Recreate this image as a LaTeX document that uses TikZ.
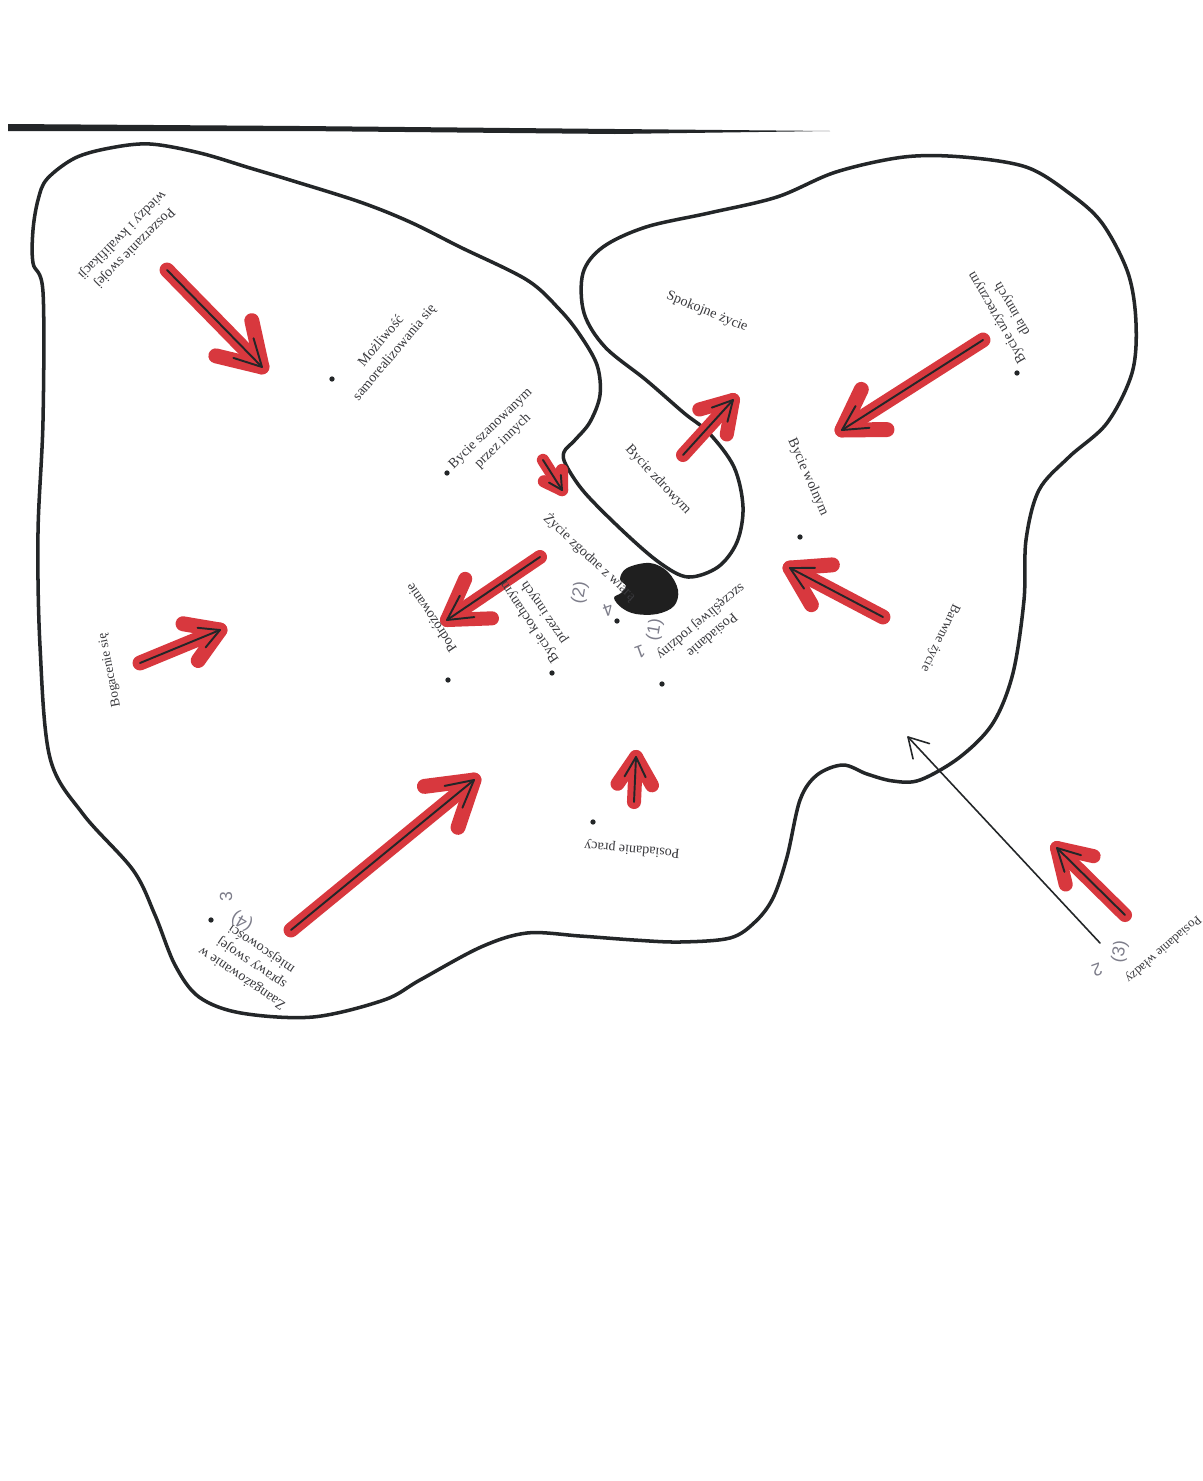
\documentclass[tikz,border=0pt]{standalone}
\usepackage{fontspec}
\setmainfont{Liberation Serif}
\newfontfamily\handfont{Liberation Sans}
\usetikzlibrary{calc}
\definecolor{markred}{RGB}{216,56,62}
\definecolor{ink}{RGB}{35,38,40}
\definecolor{typetext}{RGB}{58,58,62}
\definecolor{pencil}{RGB}{125,125,138}
\newcommand\markarrow[5]{%
  \draw[redmark, line width=#5] (#1) -- (#2);
  \draw[redmark, line width=#5] ($(#2)!#3!32:(#1)$) -- (#2) -- ($(#2)!#3!-32:(#1)$);
  \draw[inkline] (#1) -- (#2);
  \draw[inkline] ($(#2)!#4!28:(#1)$) -- (#2) -- ($(#2)!#4!-28:(#1)$);
}
\begin{document}
\begin{tikzpicture}[x=0.02cm,y=-0.02cm,
  outline/.style={draw=ink, line width=2pt, line join=round},
  redmark/.style={draw=markred, line cap=round, line join=round},
  inkline/.style={draw=ink, line width=1.1pt, line cap=round, line join=round},
  lbl/.style={text=typetext, font=\fontsize{8}{10}\selectfont, align=center, inner sep=0pt},
  hand/.style={text=pencil, font=\handfont\fontsize{10}{11}\selectfont, inner sep=0pt},
  dotmark/.style={fill=ink, circle, inner sep=0pt, minimum size=3pt},
]
\fill[white] (0,0) rectangle (1203,1481);
\useasboundingbox (0,0) rectangle (1203,1481);

% top rule
\fill[ink] (8,124) -- (300,126) -- (615,129) -- (830,131) -- (615,134) -- (300,131) -- (8,131) -- cycle;

% outline
\draw[outline] plot[smooth cycle, tension=0.55] coordinates {
(47,179) (75,158) (110,148) (150,144) (200,153) (250,168) (290,180) (360,202) (410,222)
(460,247) (527,280) (560,310) (580,335) (597,365) (600,395) (590,422) (575,440) (564,452)
(566,465) (585,493) (625,533) (660,563) (688,577) (718,567) (737,542) (743,507) (734,467)
(709,433) (684,413) (646,380) (605,347) (584,313) (583,273) (603,247) (646,227) (709,213)
(777,197) (836,172) (904,157) (963,157) (1026,167) (1069,193) (1102,223) (1128,273)
(1136,323) (1132,373) (1107,423) (1069,457) (1039,490) (1026,540) (1024,600) (1013,673)
(993,723) (960,757) (920,780) (893,781) (867,774) (843,765) (817,775) (800,800) (787,857)
(773,898) (755,922) (730,938) (680,942) (634,940) (580,936) (527,933) (481,947) (420,980)
(384,1000) (313,1017) (241,1013) (199,997) (175,965) (155,915) (133,870) (83,814) (50,758)
(40,646) (38,533) (43,421) (43,292) (33,263) (33,230) (38,200)};

% black blob
\fill[black!88] plot[smooth cycle, tension=0.6] coordinates {
(627,568) (650,563) (668,572) (678,590) (674,606) (657,614) (636,614) (622,608) (614,598)
(621,593) (626,586) (620,579)};

% red marker arrows
\coordinate (a1s) at (167,270); \coordinate (a1t) at (262,367);
\coordinate (a2s) at (543,460); \coordinate (a2t) at (562,490);
\coordinate (a3s) at (683,455); \coordinate (a3t) at (733,400);
\coordinate (a4s) at (983,340); \coordinate (a4t) at (842,430);
\coordinate (a5s) at (883,617); \coordinate (a5t) at (790,568);
\coordinate (a6s) at (540,557); \coordinate (a6t) at (447,620);
\coordinate (a7s) at (140,663); \coordinate (a7t) at (220,630);
\coordinate (a8s) at (291,930); \coordinate (a8t) at (474,780);
\coordinate (a9s) at (634,802); \coordinate (a9t) at (636,757);
\coordinate (a10s) at (1125,915); \coordinate (a10t) at (1057,848);
\markarrow{a1s}{a1t}{0.95cm}{0.6cm}{8.5pt}
\markarrow{a2s}{a2t}{0.4cm}{0.3cm}{7pt}
\markarrow{a3s}{a3t}{0.7cm}{0.45cm}{8pt}
\markarrow{a4s}{a4t}{0.9cm}{0.55cm}{8.5pt}
\markarrow{a5s}{a5t}{0.85cm}{0.5cm}{8.5pt}
\markarrow{a6s}{a6t}{0.9cm}{0.55cm}{8pt}
\markarrow{a7s}{a7t}{0.75cm}{0.45cm}{8.5pt}
\markarrow{a8s}{a8t}{1.0cm}{0.6cm}{8.5pt}
\markarrow{a9s}{a9t}{0.65cm}{0.45cm}{8pt}
\markarrow{a10s}{a10t}{0.75cm}{0.5cm}{8pt}

% thin ink arrow
\coordinate (b1s) at (1100,943); \coordinate (b1t) at (908,737);
\draw[inkline, line width=0.9pt] (b1s) -- (b1t);
\draw[inkline, line width=0.9pt] ($(b1t)!0.45cm!30:(b1s)$) -- (b1t) -- ($(b1t)!0.45cm!-30:(b1s)$);

% dots
\node[dotmark] (d1) at (332,379) {};
\node[dotmark] (d2) at (447,473) {};
\node[dotmark] (d3) at (1017,373) {};
\node[dotmark] (d4) at (800,537) {};
\node[dotmark] (d5) at (617,621) {};
\node[dotmark] (d6) at (552,673) {};
\node[dotmark] (d7) at (448,680) {};
\node[dotmark] (d8) at (662,684) {};
\node[dotmark] (d9) at (593,822) {};
\node[dotmark] (d10) at (211,920) {};

% labels
\node[lbl, rotate=225] (l1) at (128,241) {Poszerzanie swojej\\wiedzy i kwalifikacji};
\node[lbl, rotate=50] (l2) at (388,347) {Możliwość\\samorealizowania się};
\node[lbl, rotate=44] (l3) at (497,435) {Bycie szanowanym\\przez innych};
\node[lbl, rotate=-47] (l4) at (658,480) {Bycie zdrowym};
\node[lbl, rotate=-22] (l5) at (707,312) {Spokojne życie};
\node[lbl, rotate=120] (l6) at (1005,313) {Bycie użytecznym\\dla innych};
\node[lbl, rotate=-66] (l7) at (808,477) {Bycie wolnym};
\node[lbl, rotate=-43] (l8) at (590,557) {Życie zgodne z wiarą};
\node[lbl, rotate=124] (l9) at (537,617) {Bycie kochanym\\przez innych};
\node[lbl, rotate=124] (l10) at (431,618) {Podróżowanie};
\node[lbl, rotate=220] (l11) at (706,628) {Posiadanie\\szczęśliwej rodziny};
\node[lbl, rotate=101, font=\fontsize{7.6}{9}\selectfont] (l12) at (110,670) {Bogacenie się};
\node[lbl, rotate=175] (l13) at (632,849) {Posiadanie pracy};
\node[lbl, rotate=146] (l14) at (252,963) {Zaangażowanie w\\sprawy swojej\\miejscowości};
\node[lbl, rotate=244, font=\fontsize{7.6}{9}\selectfont] (l15) at (940,638) {Barwne życie};
\node[lbl, rotate=221, font=\fontsize{7.3}{9}\selectfont] (l16) at (1163,949) {Posiadanie władzy};

% pencil notes
\node[hand, rotate=80] (h1) at (580,593) {(2)};
\node[hand, rotate=200] (h2) at (608,610) {4};
\node[hand, rotate=80] (h3) at (655,630) {(1)};
\node[hand, rotate=200] (h4) at (640,652) {1};
\node[hand, rotate=90] (h5) at (226,897) {3};
\node[hand, rotate=150] (h6) at (242,921) {(4)};
\node[hand, rotate=200] (h7) at (1097,970) {2};
\node[hand, rotate=80] (h8) at (1120,952) {(3)};
\end{tikzpicture}
\end{document}
